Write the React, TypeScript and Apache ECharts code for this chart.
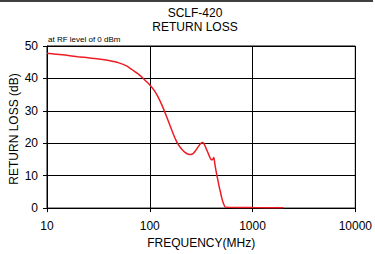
import React, { useEffect, useRef } from "react";
import * as echarts from "echarts";

const freqMHz = [10, 15, 20, 25, 32, 40, 50, 60, 68, 77, 85, 93, 100, 110, 120, 132, 145, 158, 170, 182, 194, 207, 220, 234, 249, 264, 280, 300, 323, 335, 345, 355, 365, 380, 395, 405, 420, 428, 436, 448, 460, 475, 487, 503, 520, 544, 732, 1000, 2000];
const returnLossDb = [47.8, 47.2, 46.7, 46.4, 46.0, 45.5, 44.8, 43.8, 42.6, 41.4, 40.2, 39.0, 38.0, 36.4, 34.4, 31.6, 28.4, 25.3, 22.7, 20.6, 19.1, 18.0, 17.2, 16.7, 16.5, 16.8, 17.8, 19.2, 20.2, 20.0, 19.2, 18.2, 17.4, 16.0, 15.0, 14.9, 15.6, 14.0, 12.4, 10.4, 8.6, 6.4, 5.0, 3.0, 1.5, 0.3, 0.2, 0.15, 0.1];
const xTicks = [10, 100, 1000, 10000];
const yTicks = [0, 10, 20, 30, 40, 50];

export default function App() {
  const ref = useRef<HTMLDivElement>(null);
  useEffect(() => {
    const chart = echarts.init(ref.current!, null, { renderer: "svg", width: 375, height: 254 });
    const font = "'Liberation Sans', Arial, sans-serif";
    chart.setOption({
      animation: false,
      backgroundColor: "#ffffff",
      textStyle: { fontFamily: font },
      graphic: [
        { type: "rect", shape: { x: 0, y: 0, width: 373, height: 2 }, style: { fill: "#404040" } },
        { type: "text", x: 195, y: 13, style: { text: "SCLF-420", font: "12px " + font, fill: "#000", align: "center", verticalAlign: "middle" } },
        { type: "text", x: 195, y: 27, style: { text: "RETURN LOSS", font: "12px " + font, fill: "#000", align: "center", verticalAlign: "middle" } },
        { type: "text", x: 48, y: 39, style: { text: "at RF level of 0 dBm", font: "8px " + font, fill: "#000", align: "left", verticalAlign: "middle" } },
        { type: "text", x: 14, y: 129, rotation: Math.PI / 2, style: { text: "RETURN LOSS (dB)", font: "12px " + font, fill: "#000", align: "center", verticalAlign: "middle" } },
      ],
      grid: { left: 47, width: 310, top: 46, height: 166, show: true, borderColor: "#000", borderWidth: 1, containLabel: false },
      xAxis: {
        type: "log",
        logBase: 10,
        min: xTicks[0],
        max: xTicks[xTicks.length - 1],
        name: "FREQUENCY(MHz)",
        nameLocation: "middle",
        nameGap: 27,
        nameTextStyle: { fontSize: 12, color: "#000", fontFamily: font },
        axisLine: { lineStyle: { color: "#000", width: 1 } },
        axisTick: { show: true, length: 4, lineStyle: { color: "#000" } },
        minorTick: { show: false },
        axisLabel: { fontSize: 12, color: "#000", margin: 12, fontFamily: font, formatter: (v: number) => String(Math.round(v)) },
        splitLine: { show: true, lineStyle: { color: "#000", width: 1 } },
      },
      yAxis: {
        type: "value",
        min: yTicks[0],
        max: yTicks[yTicks.length - 1],
        interval: 10,
        axisLine: { show: true, lineStyle: { color: "#000", width: 1 } },
        axisTick: { show: true, length: 4, lineStyle: { color: "#000" } },
        axisLabel: { fontSize: 12, color: "#000", margin: 9, fontFamily: font },
        splitLine: { show: true, lineStyle: { color: "#000", width: 1 } },
      },
      series: [
        {
          type: "line",
          data: freqMHz.map((f, i) => [f, returnLossDb[i]]),
          showSymbol: false,
          smooth: 0.2,
          lineStyle: { color: "#ee1c25", width: 1.5 },
        },
      ],
    });
    return () => chart.dispose();
  }, []);
  return <div ref={ref} style={{ position: "fixed", left: 0, top: 0, width: 375, height: 254 }} />;
}
